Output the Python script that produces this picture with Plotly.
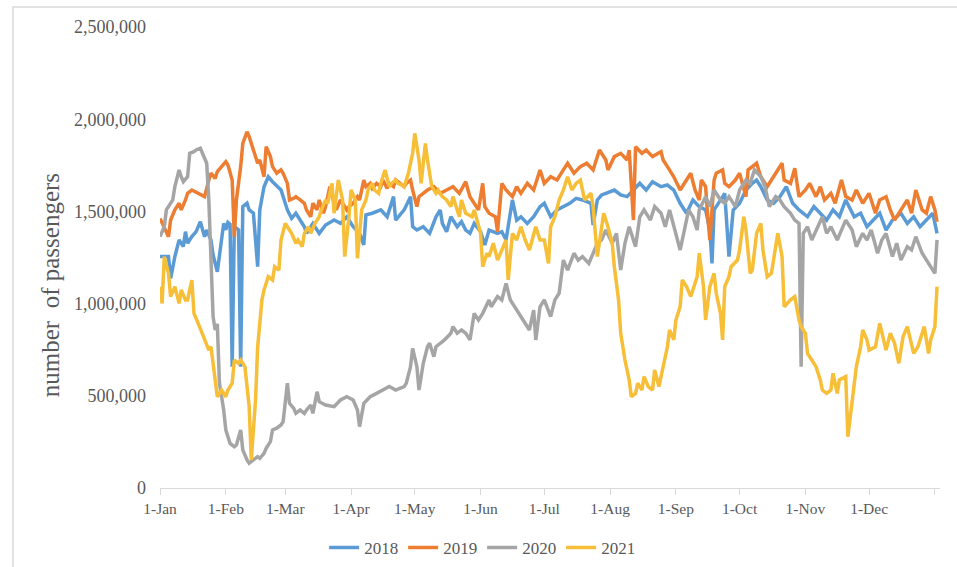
import pandas as pd
import plotly.graph_objects as go

# Day offset from 1-Jan and daily passengers (thousands)
days_2018 = [0, 4, 5, 7, 9, 11, 12, 13, 15, 17,
             19, 21, 22, 24, 25, 27, 30, 31, 32, 33,
             34, 35, 37, 38, 39, 41, 42, 44, 46, 47,
             49, 51, 53, 57, 60, 62, 64, 68, 69, 72,
             75, 78, 82, 85, 88, 91, 94, 96, 97, 100,
             104, 107, 110, 111, 115, 118, 119, 121, 124, 127,
             130, 132, 133, 135, 137, 140, 142, 144, 146, 148,
             151, 153, 155, 159, 161, 163, 166, 168, 170, 173,
             176, 179, 181, 184, 187, 190, 193, 196, 199, 203,
             204, 206, 208, 210, 214, 217, 220, 223, 226, 229,
             232, 236, 239, 242, 245, 248, 251, 254, 257, 259,
             260, 261, 264, 266, 268, 270, 273, 276, 279, 281,
             283, 286, 289, 292, 295, 298, 301, 305, 308, 311,
             314, 317, 320, 323, 327, 330, 333, 336, 339, 342,
             345, 349, 352, 355, 358, 361, 364, 366]
pax_2018 = [1255, 1255, 1137, 1255, 1345, 1309, 1390, 1327, 1363, 1390,
            1444, 1363, 1399, 1345, 1264, 1173, 1435, 1400, 1440, 1430,
            658, 1417, 1400, 658, 1526, 1544, 1508, 1490, 1200, 1508,
            1634, 1688, 1661, 1616, 1508, 1462, 1490, 1417, 1381, 1435,
            1381, 1426, 1453, 1435, 1471, 1417, 1381, 1318, 1481, 1490,
            1508, 1471, 1580, 1453, 1508, 1580, 1417, 1399, 1417, 1381,
            1471, 1508, 1435, 1390, 1471, 1417, 1444, 1399, 1381, 1435,
            1390, 1318, 1399, 1381, 1390, 1345, 1562, 1453, 1471, 1435,
            1471, 1526, 1544, 1471, 1508, 1526, 1544, 1571, 1562, 1544,
            1426, 1562, 1589, 1598, 1616, 1589, 1580, 1616, 1652, 1616,
            1661, 1634, 1643, 1616, 1544, 1490, 1562, 1526, 1508, 1399,
            1218, 1508, 1562, 1598, 1255, 1508, 1544, 1616, 1652, 1670,
            1634, 1562, 1544, 1580, 1634, 1544, 1508, 1471, 1526, 1490,
            1453, 1508, 1471, 1562, 1471, 1490, 1417, 1453, 1490, 1399,
            1453, 1490, 1435, 1471, 1417, 1453, 1490, 1381]

days_2019 = [0, 2, 4, 5, 7, 9, 10, 12, 13, 15,
             18, 20, 21, 23, 24, 26, 27, 29, 31, 32,
             34, 35, 36, 38, 39, 41, 42, 44, 46, 47,
             49, 50, 52, 53, 55, 57, 58, 60, 61, 63,
             64, 66, 68, 69, 71, 72, 74, 75, 77, 78,
             80, 82, 83, 85, 86, 88, 89, 91, 93, 94,
             96, 97, 99, 100, 102, 104, 105, 107, 108, 110,
             111, 113, 115, 116, 118, 119, 121, 122, 126, 129,
             132, 135, 138, 141, 144, 146, 148, 150, 152, 153,
             155, 158, 159, 161, 163, 166, 168, 170, 173, 176,
             179, 181, 184, 187, 190, 192, 195, 198, 201, 204,
             207, 210, 211, 214, 217, 220, 221, 223, 224, 227,
             229, 232, 236, 237, 239, 242, 245, 248, 250, 252,
             254, 255, 257, 258, 259, 261, 262, 265, 266, 268,
             271, 273, 276, 277, 279, 281, 283, 286, 288, 290,
             293, 294, 297, 299, 301, 304, 306, 309, 311, 313,
             316, 318, 321, 323, 326, 328, 331, 334, 337, 339,
             342, 344, 346, 349, 352, 354, 356, 359, 361, 363,
             365, 366]
pax_2019 = [1462, 1417, 1363, 1453, 1508, 1544, 1508, 1562, 1598, 1616,
            1598, 1589, 1580, 1670, 1707, 1679, 1716, 1743, 1770, 1752,
            1670, 1363, 1562, 1743, 1869, 1932, 1905, 1833, 1761, 1779,
            1688, 1851, 1797, 1743, 1707, 1725, 1707, 1652, 1562, 1571,
            1580, 1562, 1544, 1508, 1471, 1544, 1508, 1562, 1490, 1526,
            1634, 1544, 1508, 1562, 1544, 1508, 1526, 1544, 1580, 1562,
            1670, 1634, 1652, 1625, 1652, 1634, 1670, 1625, 1652, 1634,
            1670, 1652, 1634, 1652, 1670, 1616, 1526, 1580, 1616, 1634,
            1598, 1616, 1634, 1598, 1661, 1580, 1544, 1508, 1652, 1526,
            1490, 1471, 1390, 1652, 1616, 1580, 1634, 1598, 1652, 1616,
            1725, 1652, 1688, 1670, 1725, 1761, 1707, 1743, 1761, 1725,
            1833, 1779, 1725, 1797, 1815, 1779, 1833, 1453, 1851, 1815,
            1833, 1797, 1824, 1779, 1743, 1688, 1616, 1670, 1707, 1616,
            1562, 1670, 1634, 1471, 1345, 1670, 1707, 1725, 1652, 1634,
            1670, 1707, 1580, 1725, 1743, 1761, 1688, 1634, 1670, 1707,
            1761, 1670, 1652, 1734, 1580, 1616, 1652, 1580, 1634, 1562,
            1598, 1544, 1670, 1580, 1562, 1616, 1544, 1598, 1490, 1562,
            1580, 1508, 1453, 1508, 1562, 1490, 1616, 1508, 1490, 1580,
            1508, 1444]

days_2020 = [0, 2, 3, 5, 6, 7, 9, 10, 11, 13,
             14, 16, 17, 19, 20, 22, 23, 24, 25, 26,
             27, 28, 30, 31, 33, 35, 36, 38, 39, 41,
             42, 44, 46, 47, 49, 50, 52, 53, 55, 57,
             58, 60, 61, 63, 64, 66, 68, 69, 71, 72,
             74, 75, 78, 82, 85, 88, 91, 93, 94, 96,
             99, 102, 105, 108, 111, 115, 116, 118, 119, 121,
             122, 124, 126, 127, 129, 130, 132, 134, 137, 138,
             140, 142, 144, 146, 148, 150, 152, 155, 156, 159,
             161, 163, 165, 167, 170, 173, 174, 176, 177, 179,
             181, 184, 186, 188, 190, 192, 195, 197, 199, 202,
             204, 206, 208, 210, 213, 215, 217, 219, 221, 224,
             226, 228, 231, 233, 236, 238, 240, 243, 245, 247,
             249, 251, 253, 254, 257, 259, 261, 264, 266, 268,
             271, 273, 276, 278, 280, 283, 285, 287, 290, 292,
             294, 297, 299, 301, 302, 303, 305, 307, 309, 312,
             314, 316, 319, 321, 323, 326, 328, 331, 333, 335,
             338, 340, 342, 345, 347, 349, 352, 354, 356, 359,
             361, 363, 365, 366]
pax_2020 = [1363, 1417, 1508, 1544, 1562, 1634, 1725, 1688, 1661, 1688,
            1815, 1824, 1833, 1842, 1815, 1761, 1562, 1200, 929, 857,
            890, 568, 423, 315, 242, 224, 233, 315, 206, 152,
            134, 152, 170, 161, 188, 215, 251, 315, 324, 342,
            360, 568, 459, 432, 405, 423, 405, 423, 450, 405,
            522, 468, 450, 441, 477, 495, 477, 423, 333, 459,
            495, 513, 531, 550, 531, 550, 568, 658, 757, 658,
            531, 676, 766, 785, 712, 766, 785, 803, 839, 875,
            839, 857, 839, 803, 947, 911, 947, 1020, 983, 1038,
            1020, 1110, 1020, 983, 929, 875, 857, 965, 803, 983,
            1020, 929, 1020, 1056, 1236, 1182, 1273, 1236, 1255, 1218,
            1273, 1327, 1345, 1399, 1327, 1381, 1182, 1327, 1417, 1309,
            1471, 1508, 1453, 1526, 1490, 1417, 1508, 1381, 1291, 1399,
            1508, 1471, 1399, 1508, 1580, 1526, 1616, 1562, 1544, 1580,
            1526, 1616, 1670, 1652, 1725, 1688, 1634, 1526, 1580, 1562,
            1526, 1490, 1453, 1435, 658, 1381, 1417, 1345, 1399, 1471,
            1381, 1417, 1345, 1399, 1453, 1399, 1309, 1381, 1345, 1399,
            1273, 1345, 1381, 1255, 1327, 1236, 1309, 1291, 1363, 1273,
            1236, 1200, 1164, 1345]

days_2021 = [0, 1, 2, 4, 5, 7, 9, 10, 12, 13,
             15, 16, 18, 20, 21, 23, 24, 26, 27, 29,
             31, 32, 34, 35, 37, 38, 40, 42, 43, 45,
             46, 48, 49, 51, 53, 54, 56, 57, 59, 60,
             62, 64, 65, 67, 68, 70, 71, 73, 75, 76,
             78, 79, 81, 82, 84, 86, 87, 89, 90, 92,
             93, 95, 97, 98, 100, 101, 103, 104, 106, 108,
             109, 111, 112, 114, 115, 117, 119, 120, 122, 123,
             125, 126, 128, 130, 131, 133, 135, 137, 138, 141,
             142, 144, 147, 148, 151, 152, 154, 155, 157, 159,
             161, 163, 164, 166, 168, 170, 172, 174, 177, 179,
             181, 183, 184, 186, 188, 190, 192, 194, 196, 198,
             200, 203, 204, 206, 209, 211, 213, 214, 216, 217,
             219, 221, 222, 224, 225, 227, 228, 230, 232, 233,
             235, 236, 237, 239, 240, 242, 243, 245, 246, 248,
             250, 251, 253, 254, 256, 257, 259, 261, 262, 264,
             265, 266, 268, 269, 272, 273, 275, 276, 278, 279,
             281, 283, 284, 286, 288, 290, 291, 293, 294, 297,
             299, 301, 302, 304, 305, 307, 309, 311, 312, 314,
             316, 317, 319, 320, 323, 324, 326, 327, 328, 330,
             331, 333, 334, 337, 339, 342, 344, 346, 348, 350,
             352, 355, 357, 360, 362, 363, 365, 366]
pax_2021 = [1092, 1001, 1255, 1164, 1038, 1092, 1001, 1074, 1020, 1020,
            1128, 947, 893, 839, 803, 748, 766, 568, 495, 531,
            495, 531, 568, 694, 676, 694, 658, 441, 152, 477,
            766, 1020, 1074, 1146, 1128, 1200, 1182, 1345, 1435, 1417,
            1381, 1327, 1345, 1309, 1381, 1417, 1381, 1435, 1471, 1508,
            1562, 1544, 1652, 1490, 1670, 1562, 1255, 1471, 1616, 1562,
            1246, 1508, 1562, 1616, 1652, 1616, 1598, 1652, 1725, 1634,
            1652, 1670, 1652, 1643, 1634, 1707, 1815, 1923, 1779, 1652,
            1869, 1779, 1634, 1598, 1616, 1580, 1562, 1526, 1580, 1471,
            1562, 1490, 1471, 1508, 1381, 1200, 1273, 1255, 1327, 1236,
            1291, 1345, 1128, 1381, 1345, 1417, 1345, 1291, 1417, 1345,
            1345, 1218, 1417, 1471, 1562, 1616, 1688, 1616, 1652, 1670,
            1562, 1598, 1526, 1255, 1490, 1417, 1327, 1200, 1020, 839,
            694, 586, 495, 513, 568, 531, 604, 550, 531, 640,
            550, 604, 658, 766, 857, 803, 911, 983, 1128, 1092,
            1038, 1074, 1146, 1273, 1092, 911, 1092, 1164, 1056, 947,
            803, 1092, 1146, 1200, 1236, 1291, 1471, 1399, 1164, 1182,
            1381, 1435, 1291, 1146, 1164, 1309, 1381, 1255, 983, 1020,
            1038, 911, 875, 839, 730, 694, 658, 586, 531, 513,
            531, 622, 513, 586, 604, 278, 477, 586, 658, 766,
            857, 803, 748, 766, 893, 748, 839, 785, 676, 821,
            875, 730, 766, 875, 730, 803, 875, 1092]

years = ["2018", "2019", "2020", "2021"]
colors = ["#5B9BD5", "#ED7D31", "#A5A5A5", "#F7BE37"]
all_days = [days_2018, days_2019, days_2020, days_2021]
all_pax = [pax_2018, pax_2019, pax_2020, pax_2021]

month_ticks = ["1-Jan", "1-Feb", "1-Mar", "1-Apr", "1-May", "1-Jun",
               "1-Jul", "1-Aug", "1-Sep", "1-Oct", "1-Nov", "1-Dec", ""]
y_ticks = [0, 500000, 1000000, 1500000, 2000000, 2500000]
y_title = "number\u00a0 of passengers"

base = pd.Timestamp("2021-01-01")
tick_dates = list(pd.date_range("2021-01-01", "2022-01-01", freq="MS"))

fig = go.Figure()
for name, d, v, c in zip(years, all_days, all_pax, colors):
    assert len(d) == len(v), name
    fig.add_trace(go.Scatter(
        x=base + pd.to_timedelta(d, unit="D"),
        y=[p * 1000 for p in v],
        mode="lines", name=name,
        line=dict(color=c, width=3.5),
    ))

font_family = "Liberation Serif"
grey_txt = "#595959"

fig.update_layout(
    width=957, height=567,
    margin=dict(l=160, r=17, t=27, b=79, autoexpand=False),
    paper_bgcolor="white", plot_bgcolor="white",
    font=dict(family=font_family, color=grey_txt),
    showlegend=True,
    legend=dict(orientation="h", x=0.413, xanchor="center",
                y=-0.130, yanchor="middle",
                font=dict(family=font_family, size=17, color=grey_txt),
                bgcolor="rgba(0,0,0,0)"),
    xaxis=dict(
        type="date",
        range=[base, base + pd.Timedelta(days=367.4)],
        tickvals=tick_dates, ticktext=month_ticks,
        ticks="outside", ticklen=6, tickcolor="#D9D9D9", tickwidth=1,
        showline=True, linecolor="#D9D9D9", linewidth=1,
        showgrid=False, zeroline=False,
        tickfont=dict(family=font_family, size=15.5, color=grey_txt),
    ),
    yaxis=dict(
        range=[0, 2500000],
        tickvals=y_ticks, ticktext=[f"{t:,}" for t in y_ticks],
        showgrid=False, showline=False, zeroline=False,
        ticks="", ticklabelstandoff=13,
        tickfont=dict(family=font_family, size=18, color=grey_txt),
    ),
    annotations=[dict(text=y_title, xref="paper", yref="paper",
                      x=-0.141, y=0.44, xanchor="center", yanchor="middle",
                      textangle=-90, showarrow=False,
                      font=dict(family=font_family, size=25, color=grey_txt))],
    shapes=[dict(type="rect", xref="paper", yref="paper",
                 x0=-0.1885, x1=1.03, y0=-0.185, y1=1.0434,
                 line=dict(color="#D9D9D9", width=1.5), layer="below")],
)

fig.write_html("out.html",
               config={"displayModeBar": False},
               post_script="document.body.style.margin='0';"
                           "document.body.style.overflow='hidden';")
